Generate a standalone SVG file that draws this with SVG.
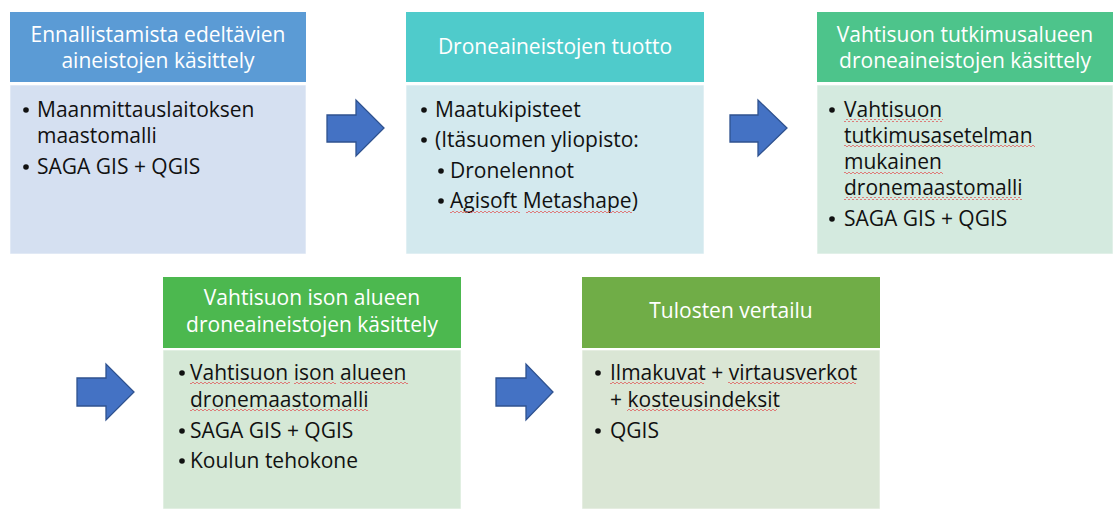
<svg xmlns="http://www.w3.org/2000/svg" width="1113" height="511" viewBox="0 0 1113 511">
<style>
.h{font-family:"Open Sans","Liberation Sans",sans-serif;font-size:21px;fill:#ffffff;text-anchor:middle}
.b{font-family:"Open Sans","Liberation Sans",sans-serif;font-size:21px;fill:#111111}
.dot{fill:#111111}
.body{stroke:#ffffff;stroke-opacity:0.6;stroke-width:1}
.arrow{fill:#4472C4;stroke:#2F528F;stroke-width:1.3}
.sq{fill:url(#squig)}
</style>
<defs>
<pattern id="squig" patternUnits="userSpaceOnUse" width="4" height="3">
<path d="M0 2 L1 1 L3 3 L4 2" fill="none" stroke="#E06060" stroke-width="0.8"/>
</pattern>
</defs>
<rect width="1113" height="511" fill="#ffffff"/>

<g id="connectors">
<polygon class="arrow" points="327,115 356,115 356,100 384,128 356,156 356,142 327,142"/>
<polygon class="arrow" points="730,115 758,115 758,100 787,128 758,156 758,142 730,142"/>
<polygon class="arrow" points="77,378 106,378 106,364 134,392 106,420 106,406 77,406"/>
<polygon class="arrow" points="496,378 526,378 526,364 553,392 526,420 526,406 496,406"/>
</g>

<g id="node1">
<rect x="10" y="12" width="296" height="70" fill="#5B9BD5"/>
<rect class="body" x="10" y="85" width="296" height="169" fill="#D5E0F1"/>
<text class="h" x="158" y="42">Ennallistamista edeltävien</text>
<text class="h" x="158" y="68">aineistojen käsittely</text>
<circle class="dot" cx="26" cy="110" r="2.8"/>
<text class="b" x="37" y="117">Maanmittauslaitoksen</text>
<text class="b" x="37" y="143">maastomalli</text>
<circle class="dot" cx="26" cy="167" r="2.8"/>
<text class="b" x="37" y="174">SAGA GIS + QGIS</text>
</g>

<g id="node2">
<rect x="406" y="12" width="298" height="70" fill="#4FCBCB"/>
<rect class="body" x="406" y="85" width="298" height="169" fill="#D3E9EE"/>
<text class="h" x="555" y="54">Droneaineistojen tuotto</text>
<circle class="dot" cx="424" cy="110" r="2.8"/>
<text class="b" x="435" y="117">Maatukipisteet</text>
<circle class="dot" cx="424" cy="140" r="2.8"/>
<text class="b" x="435" y="147">(Itäsuomen yliopisto:</text>
<circle class="dot" cx="441" cy="171" r="2.8"/>
<text class="b" x="450" y="178">Dronelennot</text>
<circle class="dot" cx="441" cy="201" r="2.8"/>
<text class="b" x="450" y="208">Agisoft Metashape)</text>
<rect class="sq" x="450" y="210" width="70" height="3"/>
<rect class="sq" x="526" y="210" width="106" height="3"/>
</g>

<g id="node3">
<rect x="817" y="12" width="296" height="70" fill="#4DC48B"/>
<rect class="body" x="817" y="85" width="296" height="169" fill="#D4EADF"/>
<text class="h" x="965" y="42">Vahtisuon tutkimusalueen</text>
<text class="h" x="965" y="68">droneaineistojen käsittely</text>
<circle class="dot" cx="832" cy="110" r="2.8"/>
<text class="b" x="844" y="117">Vahtisuon</text>
<text class="b" x="844" y="143">tutkimusasetelman</text>
<text class="b" x="844" y="169">mukainen</text>
<text class="b" x="844" y="195">dronemaastomalli</text>
<circle class="dot" cx="832" cy="219" r="2.8"/>
<text class="b" x="844" y="226">SAGA GIS + QGIS</text>
<rect class="sq" x="844" y="119" width="99" height="3"/>
<rect class="sq" x="844" y="145" width="191" height="3"/>
<rect class="sq" x="844" y="171" width="99" height="3"/>
<rect class="sq" x="844" y="197" width="178" height="3"/>
</g>

<g id="node4">
<rect x="163" y="277" width="298" height="71" fill="#4CB84F"/>
<rect class="body" x="163" y="350" width="298" height="159" fill="#D5E8D6"/>
<text class="h" x="312" y="305">Vahtisuon ison alueen</text>
<text class="h" x="312" y="332">droneaineistojen käsittely</text>
<circle class="dot" cx="182" cy="373" r="2.8"/>
<text class="b" x="190" y="380">Vahtisuon ison alueen</text>
<text class="b" x="190" y="407">dronemaastomalli</text>
<circle class="dot" cx="182" cy="431" r="2.8"/>
<text class="b" x="190" y="438">SAGA GIS + QGIS</text>
<circle class="dot" cx="182" cy="461" r="2.8"/>
<text class="b" x="190" y="468">Koulun tehokone</text>
<rect class="sq" x="190" y="382" width="100" height="3"/>
<rect class="sq" x="294" y="382" width="42" height="3"/>
<rect class="sq" x="340" y="382" width="68" height="3"/>
<rect class="sq" x="190" y="409" width="178" height="3"/>
</g>

<g id="node5">
<rect x="582" y="277" width="298" height="71" fill="#70AD47"/>
<rect class="body" x="582" y="350" width="298" height="159" fill="#DAE6D5"/>
<text class="h" x="731" y="318">Tulosten vertailu</text>
<circle class="dot" cx="598" cy="373" r="2.8"/>
<text class="b" x="610" y="380">Ilmakuvat + virtausverkot</text>
<text class="b" x="610" y="407">+ kosteusindeksit</text>
<circle class="dot" cx="598" cy="431" r="2.8"/>
<text class="b" x="610" y="438">QGIS</text>
<rect class="sq" x="610" y="382" width="94" height="3"/>
<rect class="sq" x="728" y="382" width="128" height="3"/>
<rect class="sq" x="627" y="409" width="150" height="3"/>
</g>
</svg>
